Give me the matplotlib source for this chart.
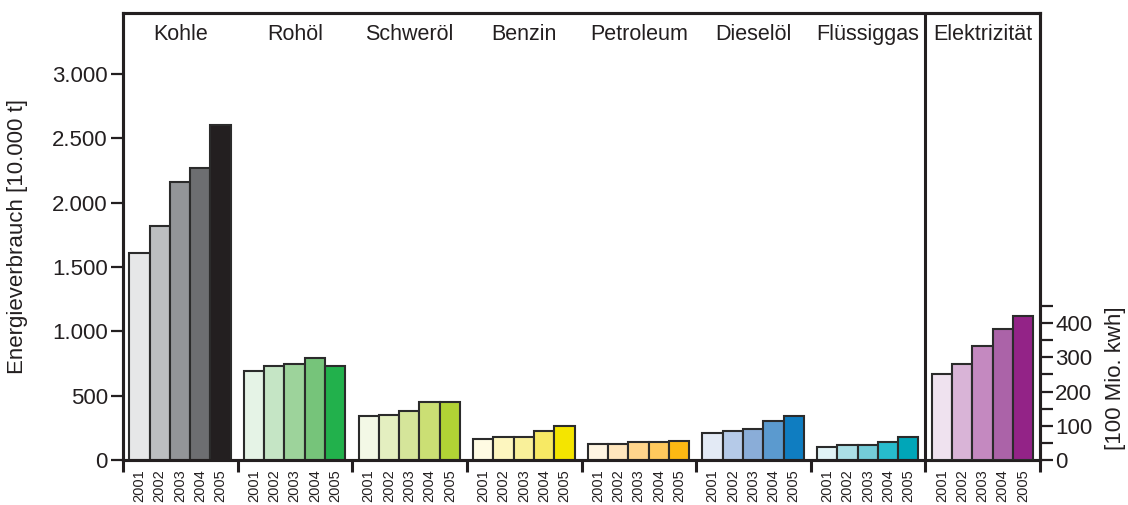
import matplotlib
matplotlib.use("Agg")
import matplotlib.pyplot as plt
from matplotlib.transforms import blended_transform_factory

plt.rcParams["font.family"] = ["Liberation Sans", "DejaVu Sans"]

INK = "#231f20"

# === data ===
years = ["2001", "2002", "2003", "2004", "2005"]
categories = ["Kohle", "Rohöl", "Schweröl", "Benzin", "Petroleum",
              "Dieselöl", "Flüssiggas", "Elektrizität"]

kohle = [1610, 1820, 2160, 2270, 2600]
rohoel = [690, 730, 745, 795, 730]
schweroel = [340, 350, 380, 450, 450]
benzin = [165, 175, 175, 228, 267]
petroleum = [127, 127, 140, 140, 150]
dieseloel = [212, 228, 243, 303, 342]
fluessiggas = [101, 114, 114, 140, 176]
# right axis, [100 Mio. kwh]
elektrizitaet = [250, 282, 333, 382, 422]

left_series = [kohle, rohoel, schweroel, benzin, petroleum, dieseloel, fluessiggas]

palettes = [
    ["#e6e7e8", "#bcbec0", "#939598", "#6d6e71", "#231f20"],
    ["#e5f3e6", "#c5e5c5", "#9dd39b", "#76c47a", "#22b14c"],
    ["#f3f8e6", "#e4efc0", "#d5e59a", "#cbdf74", "#b1d235"],
    ["#fffbe3", "#fdf6bf", "#f9f09a", "#f7e964", "#f4e500"],
    ["#fff5e2", "#ffe6bd", "#ffd58c", "#ffc95d", "#fdb913"],
    ["#e3eaf5", "#b5cae8", "#8aadd8", "#5b9acf", "#0f7dc1"],
    ["#e1f3f6", "#abdfe6", "#74ccd8", "#27bccd", "#00a6b8"],
    ["#efe2ef", "#d9b4d7", "#c489c0", "#ab63a8", "#932387"],
]

G = 5.65      # group width in bar units
OFF = 0.31    # gap before first bar of a group

fig = plt.figure(figsize=(11.28, 5.05), dpi=100)
ax = fig.add_axes([123 / 1128, 45 / 505, 917 / 1128, 447 / 505])
ax2 = ax.twinx()

def bar_x(i):
    return [i * G + OFF + j + 0.5 for j in range(len(years))]

for i, vals in enumerate(left_series):
    ax.bar(bar_x(i), vals, width=1.0, color=palettes[i],
           edgecolor="#2b2b2b", linewidth=1.5, zorder=3)

ax2.bar(bar_x(7), elektrizitaet, width=1.0, color=palettes[7],
        edgecolor="#2b2b2b", linewidth=1.5, zorder=3)

ax.set_xlim(0, 8 * G)
ax.set_ylim(0, 3473)
ax2.set_ylim(0, 1307)

# year labels under each bar, group separators as ticks
xt, xl = [], []
for i in range(8):
    xt += bar_x(i)
    xl += years
ax.set_xticks(xt)
ax.set_xticklabels(xl, rotation=90, fontsize=10.5, color=INK)
ax.tick_params(axis="x", which="major", length=0, pad=7)
ax.set_xticks([i * G for i in range(9)], minor=True)
ax.tick_params(axis="x", which="minor", length=8.6, width=2.2,
               direction="out", color=INK)

ax.set_yticks([0, 500, 1000, 1500, 2000, 2500, 3000])
ax.set_yticklabels(["0", "500", "1.000", "1.500", "2.000", "2.500", "3.000"])
ax.tick_params(axis="y", length=9, width=1.6, pad=2, labelsize=16,
               colors=INK)
ax.set_ylabel("Energieverbrauch [10.000 t]", fontsize=16, color=INK)
ax.yaxis.set_label_coords(-0.1036, 0.5)

r_ticks = list(range(0, 451, 50))
ax2.set_yticks(r_ticks)
ax2.set_yticklabels([str(t) if t % 100 == 0 else "" for t in r_ticks])
ax2.tick_params(axis="y", length=9, width=1.6, pad=2, labelsize=16,
                colors=INK)
ax2.set_ylabel("[100 Mio. kwh]", fontsize=16, color=INK)
ax2.yaxis.set_label_coords(1.071, 0.183)

for a in (ax, ax2):
    for s in a.spines.values():
        s.set_linewidth(2.2)
        s.set_color(INK)

# separator before Elektrizität
ax.axvline(7 * G, color=INK, linewidth=2.2, zorder=4)

trans = blended_transform_factory(ax.transData, ax.transAxes)
for i, name in enumerate(categories):
    ax.text(i * G + G / 2, 0.953, name, transform=trans, ha="center",
            va="center", fontsize=15.5, color=INK)

fig.savefig("out.png", dpi=100)
